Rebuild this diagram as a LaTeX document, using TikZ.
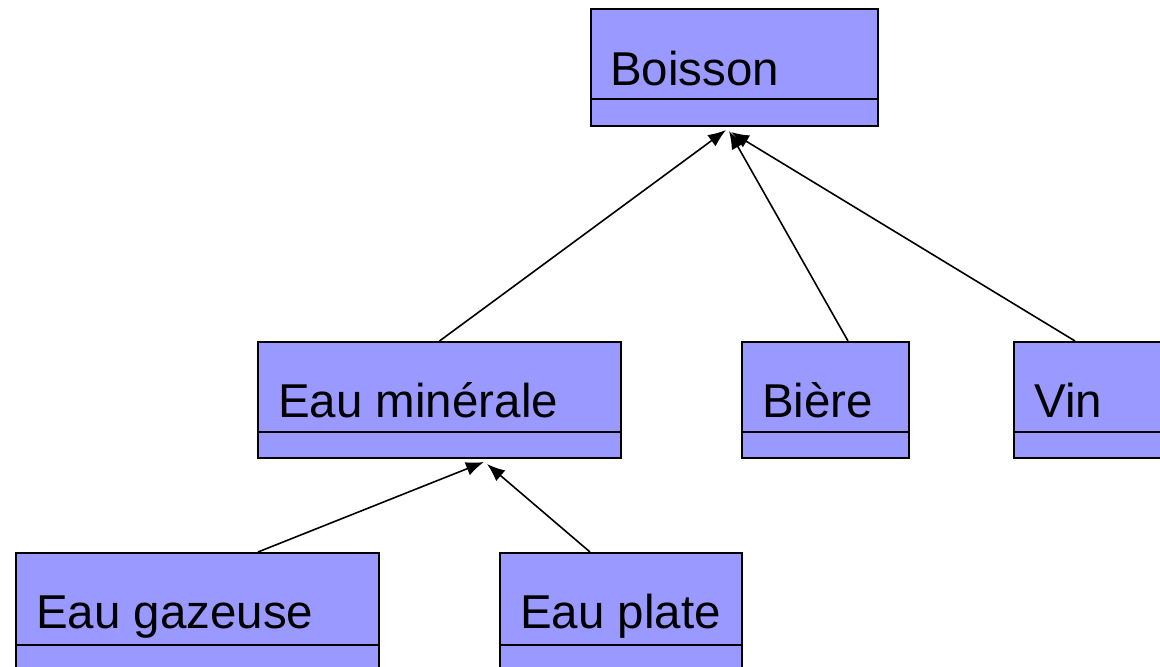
\documentclass[tikz,border=0pt]{standalone}
\usepackage{fontspec}
\setmainfont{Liberation Sans}
\usetikzlibrary{arrows.meta,calc}
\definecolor{boxfill}{HTML}{9999FF}
\tikzset{
  umlbox/.style={draw=black, fill=boxfill, line width=2pt, rectangle, inner sep=0pt, anchor=north west},
  umltext/.style={anchor=base west, inner sep=0pt, font=\fontsize{47.5pt}{50pt}\selectfont},
  divider/.style={line width=2pt},
  inherit/.style={line width=1.6pt, -{Latex[length=18pt,width=14pt]}}
}
\begin{document}
\begin{tikzpicture}[x=1pt,y=-1pt]
\useasboundingbox (0,0) rectangle (1160,667);
\clip (0,0) rectangle (1160,667);
% boxes
\node[umlbox, minimum width=287pt, minimum height=117pt] (boisson) at (590,8) {};
\node[umlbox, minimum width=363pt, minimum height=116pt] (eaumin) at (257,341) {};
\node[umlbox, minimum width=167pt, minimum height=116pt] (biere) at (741,341) {};
\node[umlbox, minimum width=180pt, minimum height=116pt] (vin) at (1013,341) {};
\node[umlbox, minimum width=363pt, minimum height=116pt] (gaz) at (15,552) {};
\node[umlbox, minimum width=242pt, minimum height=116pt] (plate) at (499,552) {};
% dividers
\draw[divider] (590,99) -- (877,99);
\draw[divider] (257,432) -- (620,432);
\draw[divider] (741,432) -- (908,432);
\draw[divider] (1013,432) -- (1194,432);
\draw[divider] (15,645) -- (378,645);
\draw[divider] (499,645) -- (741,645);
% texts
\node[umltext] (tboisson) at (610,85) {Boisson};
\node[umltext] (teaumin) at (278,417) {Eau minérale};
\node[umltext] (tbiere) at (762,417) {Bière};
\node[umltext] (tvin) at (1034,417) {Vin};
\node[umltext] (tgaz) at (36,628) {Eau gazeuse};
\node[umltext] (tplate) at (520,628) {Eau plate};
% arrow targets
\coordinate (tipa) at (726,130);
\coordinate (tipb) at (729,131);
\coordinate (tipc) at (731,132);
\coordinate (tipd) at (484,462);
\coordinate (tipe) at (487,464);
% connectors
\draw[inherit] (eaumin.north) -- (tipa);
\draw[inherit] ($(biere.north west)+(107,0)$) -- (tipb);
\draw[inherit] ($(vin.north west)+(62,0)$) -- (tipc);
\draw[inherit] ($(gaz.north west)+(243,0)$) -- (tipd);
\draw[inherit] ($(plate.north west)+(91,0)$) -- (tipe);
\end{tikzpicture}
\end{document}
